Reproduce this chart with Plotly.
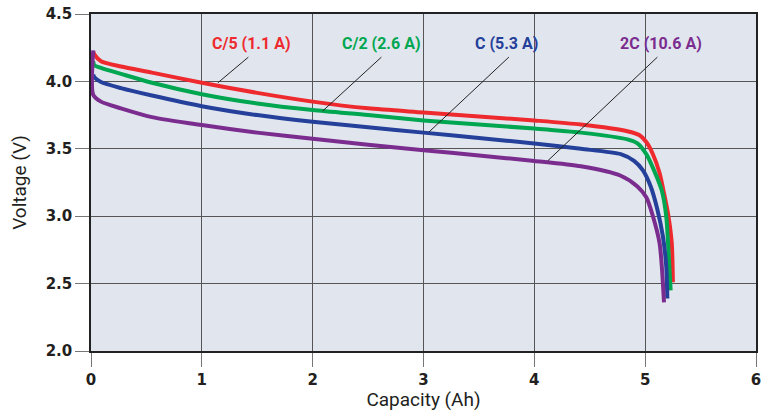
import plotly.graph_objects as go

# ---- data ----
red_x = [0.02, 0.03, 0.09, 0.27, 0.55, 1.0, 1.5, 2.0, 2.5, 3.0, 3.5, 4.0, 4.42, 4.84, 4.95, 5.01, 5.07, 5.13, 5.17, 5.21, 5.24, 5.25]
red_y = [4.22, 4.20, 4.15, 4.11, 4.065, 3.99, 3.915, 3.85, 3.80, 3.77, 3.74, 3.71, 3.68, 3.63, 3.60, 3.55, 3.46, 3.32, 3.17, 3.0, 2.80, 2.51]

green_x = [0.02, 0.03, 0.09, 0.27, 0.55, 1.0, 1.5, 2.0, 2.5, 3.0, 3.5, 4.0, 4.42, 4.84, 4.93, 5.01, 5.08, 5.15, 5.19, 5.21, 5.23]
green_y = [4.15, 4.12, 4.10, 4.056, 3.99, 3.905, 3.836, 3.787, 3.75, 3.71, 3.68, 3.65, 3.62, 3.57, 3.54, 3.46, 3.34, 3.19, 3.0, 2.75, 2.45]

blue_x = [0.02, 0.03, 0.09, 0.27, 0.55, 1.0, 1.5, 2.0, 2.5, 3.0, 3.5, 4.0, 4.42, 4.78, 4.90, 4.98, 5.05, 5.11, 5.16, 5.19, 5.20]
blue_y = [4.05, 4.03, 3.995, 3.95, 3.895, 3.816, 3.75, 3.70, 3.66, 3.62, 3.58, 3.54, 3.50, 3.46, 3.41, 3.34, 3.22, 3.05, 2.85, 2.63, 2.39]

purple_x = [0.02, 0.02, 0.09, 0.27, 0.55, 1.0, 1.5, 2.0, 2.5, 3.0, 3.5, 4.0, 4.42, 4.78, 4.93, 5.01, 5.07, 5.13, 5.15, 5.17]
purple_y = [4.23, 3.90, 3.85, 3.80, 3.735, 3.676, 3.62, 3.575, 3.53, 3.49, 3.45, 3.41, 3.37, 3.30, 3.22, 3.14, 3.0, 2.80, 2.63, 2.36]

series_names = ["C/5 (1.1 A)", "C/2 (2.6 A)", "C (5.3 A)", "2C (10.6 A)"]
series_colors = ["#ee2a2e", "#00a650", "#24409a", "#7b2d8f"]
label_x = [1.45, 2.62, 3.75, 5.14]
label_y = [4.28, 4.28, 4.28, 4.28]
leader_top = [(1.42, 4.18), (2.62, 4.18), (3.77, 4.18), (5.11, 4.18)]
leader_end = [(1.145, 3.99), (2.09, 3.78), (3.05, 3.625), (4.12, 3.41)]

x_ticks = [0, 1, 2, 3, 4, 5, 6]
y_ticks = [2.0, 2.5, 3.0, 3.5, 4.0, 4.5]

fig = go.Figure()
for xs, ys, name, col in zip([red_x, green_x, blue_x, purple_x],
                             [red_y, green_y, blue_y, purple_y],
                             series_names, series_colors):
    fig.add_trace(go.Scatter(x=xs, y=ys, mode="lines", name=name,
                             line=dict(color=col, width=4, shape="spline", smoothing=0.7),
                             showlegend=False))

for (x0, y0), (x1, y1) in zip(leader_top, leader_end):
    fig.add_shape(type="line", x0=x0, y0=y0, x1=x1, y1=y1,
                  line=dict(color="#222222", width=1))

for name, col, lx, ly in zip(series_names, series_colors, label_x, label_y):
    fig.add_annotation(x=lx, y=ly, text=name, showarrow=False,
                       font=dict(family="Roboto", size=16, color=col, weight="bold"))

axis_common = dict(
    showgrid=True, gridcolor="#555555", gridwidth=1.3,
    showline=True, linecolor="#222222", linewidth=1.5, mirror=True,
    ticks="outside", tickcolor="#777777", tickwidth=1.3,
    tickfont=dict(family="DejaVu Sans", size=15, color="#231f20", weight="bold"),
    zeroline=False, automargin=False,
)

fig.update_xaxes(range=[0, 6], tickvals=x_ticks, ticklen=14,
                 title=dict(text="Capacity (Ah)", standoff=4,
                            font=dict(family="Roboto", size=19, color="#231f20")),
                 **axis_common)
fig.update_yaxes(range=[2.0, 4.5], tickvals=y_ticks, tickformat=".1f", ticklen=14,
                 title=dict(text="Voltage (V)", standoff=14,
                            font=dict(family="Roboto", size=19, color="#231f20")),
                 **axis_common)

fig.update_layout(
    width=771, height=411,
    margin=dict(l=91, r=15, t=14, b=60),
    plot_bgcolor="#e1e6ee", paper_bgcolor="white",
)

fig.write_html("out.html", config={"displayModeBar": False},
               post_script="document.body.style.margin='0px';document.body.style.overflow='hidden';")
